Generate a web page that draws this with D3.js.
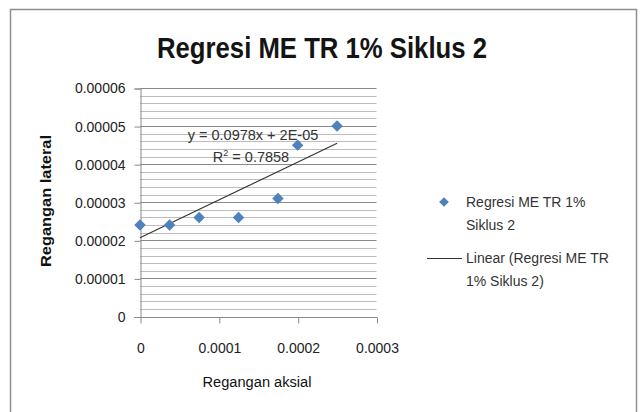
<!DOCTYPE html>
<html><head><meta charset="utf-8">
<script src="https://cdn.jsdelivr.net/npm/d3@7"></script>
<style>
html,body{margin:0;padding:0;background:#fff;}
svg{display:block;font-family:"Liberation Sans",Arial,sans-serif;}
</style></head>
<body>
<svg id="chart" width="644" height="412"></svg>
<script>
// Data
const xValues = [0, 0.0000375, 0.000075, 0.000125, 0.000175, 0.0002, 0.00025];
const yValues = [0.000024, 0.000024, 0.000026, 0.000026, 0.000031, 0.000045, 0.00005];
const xTicks = [0, 0.0001, 0.0002, 0.0003];
const xTickLabels = ["0", "0.0001", "0.0002", "0.0003"];
const yTicks = [0, 0.00001, 0.00002, 0.00003, 0.00004, 0.00005, 0.00006];
const yTickLabels = ["0", "0.00001", "0.00002", "0.00003", "0.00004", "0.00005", "0.00006"];
const trendX = [0, 0.00025];
const trendY = [0.0000207, 0.0000455];
const equationText = "y = 0.0978x + 2E-05";
const r2Value = "0.7858";
const title = "Regresi ME TR 1% Siklus 2";
const xTitle = "Regangan aksial";
const yTitle = "Regangan lateral";
const legendLabels = [["Regresi ME TR 1%", "Siklus 2"], ["Linear (Regresi ME TR", "1% Siklus 2)"]];

const svg = d3.select("#chart");
const L = 140, R = 376.5, T = 88, B = 316.5;
const x = d3.scaleLinear().domain([0, 0.0003]).range([L, R]);
const y = d3.scaleLinear().domain([0, 0.00006]).range([B, T]);

// chart border
svg.append("rect").attr("x", 10.5).attr("y", 9.5).attr("width", 626).attr("height", 420)
  .attr("fill", "#fff").attr("stroke", "#8e8e8e").attr("stroke-width", 1.5);

// title
svg.append("text").attr("x", 322).attr("y", 58).attr("text-anchor", "middle")
  .attr("font-size", 30).attr("font-weight", "bold").attr("fill", "#141414")
  .attr("font-family", "'Liberation Sans Narrow','Liberation Sans',Arial,sans-serif")
  .attr("textLength", 330).attr("lengthAdjust", "spacingAndGlyphs").text(title);

// minor gridlines
const minorTicks = d3.range(0, 61, 2).filter(d => d % 10 !== 0).map(d => d * 1e-6);
svg.append("g").selectAll("line").data(minorTicks).join("line")
  .attr("x1", L).attr("x2", R)
  .attr("y1", d => Math.round(y(d)) + 0.5).attr("y2", d => Math.round(y(d)) + 0.5)
  .attr("stroke", "#bdbdbd").attr("stroke-width", 1);

// major gridlines
svg.append("g").selectAll("line").data(yTicks.slice(1)).join("line")
  .attr("x1", L).attr("x2", R)
  .attr("y1", d => Math.round(y(d)) + 0.5).attr("y2", d => Math.round(y(d)) + 0.5)
  .attr("stroke", "#8a8a8a").attr("stroke-width", 1);

// y axis
const yAxis = d3.axisLeft(y).tickValues(yTicks).tickSize(6).tickPadding(9)
  .tickFormat((d, i) => yTickLabels[i]);
const gy = svg.append("g").attr("transform", `translate(${L + 0.5},0.5)`).call(yAxis);
gy.select(".domain").attr("stroke", "#8a8a8a");
gy.selectAll(".tick line").attr("stroke", "#8a8a8a");
gy.selectAll(".tick text").attr("font-size", 14).attr("fill", "#222")
  .attr("font-family", "Liberation Sans, Arial, sans-serif");

// x axis
const xAxis = d3.axisBottom(x).tickValues(xTicks).tickSize(6).tickPadding(0)
  .tickFormat((d, i) => xTickLabels[i]);
const gx = svg.append("g").attr("transform", `translate(0.5,${Math.round(B) + 0.5})`).call(xAxis);
gx.select(".domain").attr("stroke", "#8a8a8a").attr("d", `M${L - 6},0H${R}`);
gx.selectAll(".tick line").attr("stroke", "#8a8a8a");
gx.selectAll(".tick text").attr("font-size", 14).attr("fill", "#222").attr("dy", "0")
  .attr("y", 35).attr("font-family", "Liberation Sans, Arial, sans-serif");

// trend line
svg.append("line")
  .attr("x1", x(trendX[0])).attr("y1", y(trendY[0]))
  .attr("x2", x(trendX[1])).attr("y2", y(trendY[1]))
  .attr("stroke", "#333").attr("stroke-width", 1.1);

// points
const diamond = d3.symbol().type(d3.symbolDiamond2).size(84);
svg.append("g").selectAll("path").data(xValues.map((v, i) => [v, yValues[i]])).join("path")
  .attr("d", diamond)
  .attr("transform", d => `translate(${x(d[0])},${y(d[1])})`)
  .attr("fill", "#4f81bd");

// equation
const eq = svg.append("g").attr("font-size", 14.5).attr("fill", "#333").attr("text-anchor", "middle");
eq.append("text").attr("x", 253).attr("y", 140).attr("fill", "#333").text(equationText);
const r2 = eq.append("text").attr("x", 251).attr("y", 162).attr("fill", "#333");
r2.append("tspan").text("R");
r2.append("tspan").attr("font-size", 9).attr("dy", -6).text("2");
r2.append("tspan").attr("dy", 6).text(" = " + r2Value);

// axis titles
svg.append("text").attr("x", 257).attr("y", 387).attr("text-anchor", "middle")
  .attr("font-size", 14).attr("fill", "#111").attr("textLength", 109)
  .attr("lengthAdjust", "spacingAndGlyphs").text(xTitle);
svg.append("text").attr("transform", "translate(51,201) rotate(-90)").attr("text-anchor", "middle")
  .attr("font-size", 14).attr("font-weight", "bold").attr("fill", "#111")
  .attr("textLength", 132).attr("lengthAdjust", "spacingAndGlyphs").text(yTitle);

// legend
const lg = svg.append("g").attr("font-size", 14).attr("fill", "#333");
lg.append("path").attr("d", d3.symbol().type(d3.symbolDiamond2).size(60)).attr("transform", "translate(444,202)").attr("fill", "#4f81bd");
lg.append("line").attr("x1", 427).attr("x2", 462).attr("y1", 258.5).attr("y2", 258.5)
  .attr("stroke", "#333").attr("stroke-width", 1.1);
legendLabels.forEach((lines, i) => {
  const y0 = i === 0 ? 207 : 263;
  lines.forEach((t, j) => {
    lg.append("text").attr("x", 466).attr("y", y0 + j * 23).attr("fill", "#333").text(t);
  });
});
</script>
</body></html>
